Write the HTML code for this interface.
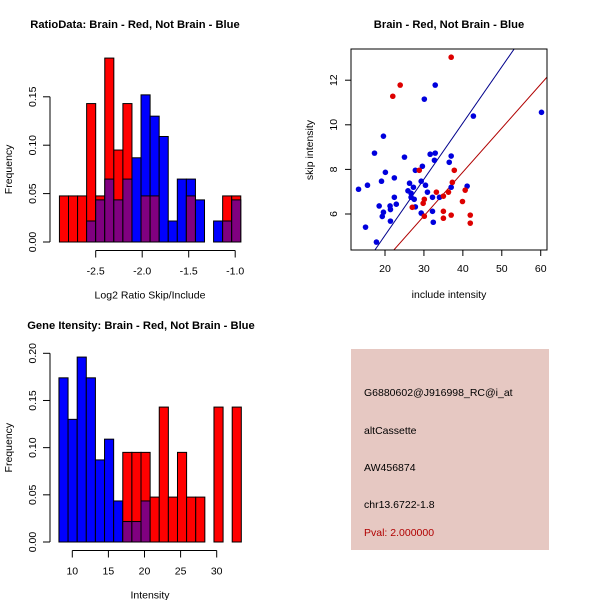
<!DOCTYPE html>
<html><head><meta charset="utf-8"><style>
html,body{margin:0;padding:0;background:#fff;}
svg{display:block;font-family:"Liberation Sans",sans-serif;}
</style></head><body>
<svg id="c" width="600" height="600" xmlns="http://www.w3.org/2000/svg">
<rect width="600" height="600" fill="#fff"/>
<text x="135" y="28" font-size="11.2" font-weight="bold" text-anchor="middle">RatioData: Brain - Red, Not Brain - Blue</text>
<text x="449" y="28" font-size="11.2" font-weight="bold" text-anchor="middle">Brain - Red, Not Brain - Blue</text>
<text x="141" y="329" font-size="11.2" font-weight="bold" text-anchor="middle">Gene Itensity: Brain - Red, Not Brain - Blue</text>
<g id="g1"></g>
<g id="g2"></g>
<g id="g3"></g>
<g>
<rect x="351" y="349" width="198" height="201" fill="#e6c8c2"/>
<text x="364" y="396" font-size="10.5">G6880602@J916998_RC@i_at</text>
<text x="364" y="434" font-size="10.5">altCassette</text>
<text x="364" y="471" font-size="10.5">AW456874</text>
<text x="364" y="508" font-size="10.5">chr13.6722-1.8</text>
<text x="364" y="536" font-size="10.5" fill="#b00000">Pval: 2.000000</text>
</g>
</svg>
<script>
// Ratio histogram data
const ratioStart = -2.89, ratioWidth = 0.0975;
const ratioRed = [0.0476,0.0476,0.0476,0.143,0.0476,0.19,0.095,0.143,0,0.0476,0.0476,0,0,0,0.0476,0,0,0,0.0476,0.0476];
const ratioBlue = [0,0,0,0.0217,0.0435,0.065,0.0435,0.065,0.087,0.152,0.13,0.109,0.0217,0.065,0.065,0.0435,0,0.0217,0.0217,0.0435];
const ratioYTicks = [0,0.05,0.10,0.15];
const ratioYLabels = ["0.00","0.05","0.10","0.15"];
const ratioXTicks = [-2.5,-2.0,-1.5,-1.0];
const ratioXLabels = ["-2.5","-2.0","-1.5","-1.0"];
// Intensity histogram data
const intStart = 8.15, intWidth = 1.263;
const intRed = [0,0,0,0,0,0,0,0.095,0.095,0.095,0.0476,0.143,0.0476,0.095,0.0476,0.0476,0,0.143,0,0.143];
const intBlue = [0.174,0.13,0.196,0.174,0.087,0.109,0.0435,0.0217,0.0217,0.0435,0,0,0,0,0,0,0,0,0,0];
const intYTicks = [0,0.05,0.10,0.15,0.20];
const intYLabels = ["0.00","0.05","0.10","0.15","0.20"];
const intXTicks = [10,15,20,25,30];
const intXLabels = ["10","15","20","25","30"];
// Scatter data
const blueX = [13.2,15.0,15.5,17.3,17.8,18.5,19.1,19.3,19.6,19.6,20.1,21.3,21.4,21.4,22.4,22.4,22.9,25.0,25.9,26.3,26.7,26.7,27.3,27.5,27.8,27.8,29.3,29.3,29.6,30.1,30.4,30.9,31.6,32.2,32.2,32.4,32.7,32.9,32.9,34.0,36.5,37.0,37.0,41.1,42.7,60.2];
const blueY = [7.11,5.41,7.29,8.73,4.74,6.36,7.47,5.89,9.49,6.08,7.87,6.36,6.2,5.68,7.62,6.75,6.44,8.55,7.04,7.38,6.75,6.93,7.2,6.66,7.96,6.32,7.47,6.04,8.14,11.15,7.29,6.98,8.68,6.75,6.12,5.63,8.41,8.73,11.78,6.75,8.32,8.6,7.2,7.25,10.39,10.56];
const redX = [22.0,23.9,37.0,28.8,27.0,29.8,30.1,30.1,33.2,35.0,35.0,35.0,36.3,37.0,37.3,37.8,39.9,40.6,41.9,41.9];
const redY = [11.28,11.78,13.03,7.96,6.3,6.48,6.66,5.9,6.98,6.8,6.12,5.81,6.98,5.95,7.42,7.96,6.56,7.07,5.95,5.59];
const blueSlope = 0.252, redSlope = 0.197;
const scXTicks = [20,30,40,50,60];
const scXLabels = ["20","30","40","50","60"];
const scYTicks = [6,8,10,12];
const scYLabels = ["6","8","10","12"];

const NS = "http://www.w3.org/2000/svg";
function mk(parent, tag, attrs){const e=document.createElementNS(NS,tag);for(const k in attrs)e.setAttribute(k,attrs[k]);parent.appendChild(e);return e;}

function drawHist(g, start, width, red, blue, yTicks, yLabels, xTicks, xLabels, sx, sy, xlab, axisY){
  const base = sy(0);
  for(let i=0;i<red.length;i++){
    const x0=sx(start+i*width), x1=sx(start+(i+1)*width);
    const r=red[i], b=blue[i];
    const hi = r>=b ? r : b, col = r>=b ? "#ff0000" : "#0000ff";
    if(hi>0){
      const e=mk(g,"rect",{x:x0,y:sy(hi),width:x1-x0,height:base-sy(hi),fill:col,stroke:"#000","stroke-width":1});
      
      
    }
    const lo=Math.min(r,b);
    if(lo>0){
      const e=mk(g,"rect",{x:x0,y:sy(lo),width:x1-x0,height:base-sy(lo),fill:"#800080",stroke:"#000","stroke-width":1});
      
      
    }
  }
  const ya=mk(g,"line",{x1:50,x2:50,y1:sy(yTicks[0]),y2:sy(yTicks[yTicks.length-1]),stroke:"#000"});
  
  
  yTicks.forEach((t,i)=>{
    mk(g,"line",{x1:43,x2:50,y1:sy(t),y2:sy(t),stroke:"#000"});
    const tx=mk(g,"text",{x:36,y:sy(t),"font-size":10.5,"text-anchor":"middle",transform:`rotate(-90 36 ${sy(t)})`});
    tx.textContent=yLabels[i];
    
    
  });
  const xa=mk(g,"line",{x1:sx(xTicks[0]),x2:sx(xTicks[xTicks.length-1]),y1:axisY,y2:axisY,stroke:"#000"});
  
  
  xTicks.forEach((t,i)=>{
    mk(g,"line",{x1:sx(t),x2:sx(t),y1:axisY,y2:axisY+7,stroke:"#000"});
    const tx=mk(g,"text",{x:sx(t),y:axisY+24,"font-size":10.5,"text-anchor":"middle"});
    tx.textContent=xLabels[i];
    
    
  });
  const xl=mk(g,"text",{x:150,y:axisY+48,"font-size":10.5,"text-anchor":"middle"});
  xl.textContent=xlab;
  
  
  const yc=(sy(yTicks[0])+sy(yTicks[yTicks.length-1]))/2;
  const yl=mk(g,"text",{x:12,y:yc,"font-size":10.5,"text-anchor":"middle",transform:`rotate(-90 12 ${yc})`});
  yl.textContent="Frequency";
  
  
}

drawHist(document.getElementById('g1'), ratioStart, ratioWidth, ratioRed, ratioBlue, ratioYTicks, ratioYLabels, ratioXTicks, ratioXLabels,
  v=>95.7+(v+2.5)*93, v=>242-v*968, "Log2 Ratio Skip/Include", 250.5);
drawHist(document.getElementById('g3'), intStart, intWidth, intRed, intBlue, intYTicks, intYLabels, intXTicks, intXLabels,
  v=>72.3+(v-10)*7.22, v=>542-v*943.5, "Intensity", 550.5);

(function(){
  const g=document.getElementById('g2');
  const sx=v=>385+(v-20)*3.893, sy=v=>214-(v-6)*22.3;
  const L=351,R=547,T=49,B=250;
  mk(g,"clipPath",{id:"clp"}).appendChild(document.createElementNS(NS,"rect"));
  const cr=g.querySelector('#clp rect'); cr.setAttribute('x',L);cr.setAttribute('y',T);cr.setAttribute('width',R-L);cr.setAttribute('height',B-T);
  const xmin=(L-385)/3.893+20, xmax=(R-385)/3.893+20;
  const bl=mk(g,"line",{x1:sx(xmin),y1:sy(blueSlope*xmin),x2:sx(xmax),y2:sy(blueSlope*xmax),stroke:"#00008b","clip-path":"url(#clp)"});
  
  
  const rl=mk(g,"line",{x1:sx(xmin),y1:sy(redSlope*xmin),x2:sx(xmax),y2:sy(redSlope*xmax),stroke:"#b00000","clip-path":"url(#clp)"});
  
  
  blueX.forEach((x,i)=>{
    const c=mk(g,"circle",{cx:sx(x),cy:sy(blueY[i]),r:2.8,fill:"#0000dd"});
    
    
  });
  redX.forEach((x,i)=>{
    const c=mk(g,"circle",{cx:sx(x),cy:sy(redY[i]),r:2.8,fill:"#dd0000"});
    
    
  });
  const box=mk(g,"rect",{x:L,y:T,width:R-L,height:B-T,fill:"none",stroke:"#000"});
  
  
  scXTicks.forEach((t,i)=>{
    mk(g,"line",{x1:sx(t),x2:sx(t),y1:B,y2:B+6,stroke:"#000"});
    const tx=mk(g,"text",{x:sx(t),y:B+22,"font-size":10.5,"text-anchor":"middle"});
    tx.textContent=scXLabels[i];
    
    
  });
  scYTicks.forEach((t,i)=>{
    mk(g,"line",{x1:L-6,x2:L,y1:sy(t),y2:sy(t),stroke:"#000"});
    const tx=mk(g,"text",{x:337,y:sy(t),"font-size":10.5,"text-anchor":"middle",transform:`rotate(-90 337 ${sy(t)})`});
    tx.textContent=scYLabels[i];
    
    
  });
  const xl=mk(g,"text",{x:449,y:298,"font-size":10.5,"text-anchor":"middle"});
  xl.textContent="include intensity";
  
  
  const yl=mk(g,"text",{x:313,y:150,"font-size":10.5,"text-anchor":"middle",transform:"rotate(-90 313 150)"});
  yl.textContent="skip intensity";
  
  
})();
</script>
</body></html>
